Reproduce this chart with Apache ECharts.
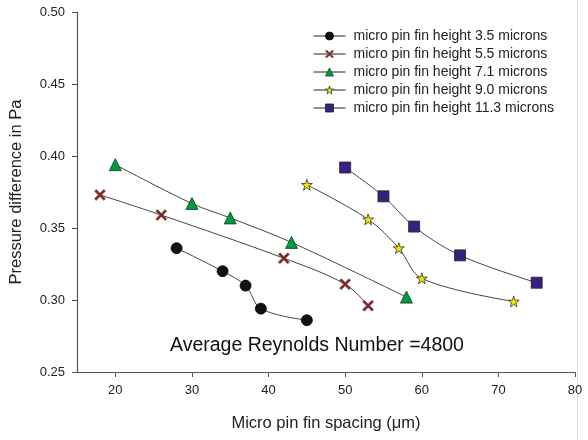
<!DOCTYPE html>
<html>
<head>
<meta charset="utf-8">
<script src="https://cdn.jsdelivr.net/npm/echarts@6/dist/echarts.min.js"></script>
<style>
html,body{margin:0;padding:0;background:#fff;}
#chart{width:588px;height:440px;}
</style>
</head>
<body>
<div id="chart"></div>
<script>
// Pin fin spacing (µm) and pressure difference (Pa) for each fin height
const seriesNames = [
  'micro pin fin height 3.5 microns',
  'micro pin fin height 5.5 microns',
  'micro pin fin height 7.1 microns',
  'micro pin fin height 9.0 microns',
  'micro pin fin height 11.3 microns'
];
const spacing35 = [28, 34, 37, 39, 45];
const dp35 = [0.336, 0.320, 0.310, 0.294, 0.286];
const spacing55 = [18, 26, 42, 50, 53];
const dp55 = [0.373, 0.359, 0.329, 0.311, 0.296];
const spacing71 = [20, 30, 35, 43, 58];
const dp71 = [0.394, 0.367, 0.357, 0.340, 0.302];
const spacing90 = [45, 53, 57, 60, 72];
const dp90 = [0.380, 0.356, 0.336, 0.315, 0.299];
const spacing113 = [50, 55, 59, 65, 75];
const dp113 = [0.392, 0.372, 0.351, 0.331, 0.312];
const xTicks = [20, 30, 40, 50, 60, 70, 80];
const annotation = 'Average Reynolds Number =4800';

const FONT = 'Liberation Sans, Arial, sans-serif';
const starPath = 'path://M50,0 L61.8,35.1 L98.5,35.1 L68.8,56.8 L79.4,91.9 L50,70 L20.6,91.9 L31.2,56.8 L1.5,35.1 L38.2,35.1 Z';
const crossPath = 'path://M0,15 L15,0 L50,35 L85,0 L100,15 L65,50 L100,85 L85,100 L50,65 L15,100 L0,85 L35,50 Z';

const styles = [
  {symbol: 'circle', size: 11, color: '#111111', border: '#000000'},
  {symbol: crossPath, size: 11, color: '#8b1c1c', border: '#7a6a6a'},
  {symbol: 'triangle', size: 12, color: '#009944', border: '#1a3a1a'},
  {symbol: starPath, size: 11, color: '#f2e600', border: '#333333'},
  {symbol: 'rect', size: 11, color: '#3b1f80', border: '#222222'}
];
const xs = [spacing35, spacing55, spacing71, spacing90, spacing113];
const ys = [dp35, dp55, dp71, dp90, dp113];

const series = seriesNames.map((name, i) => ({
  name: name,
  type: 'line',
  smooth: 0.35,
  data: xs[i].map((x, k) => [x, ys[i][k]]),
  symbol: styles[i].symbol,
  symbolSize: styles[i].size,
  lineStyle: {color: '#444444', width: 1},
  itemStyle: {color: styles[i].color, borderColor: styles[i].border, borderWidth: 0.8},
  emphasis: {disabled: true},
  z: 3 + i
}));

const legendData = seriesNames.map((name, i) => ({
  name: name,
  itemStyle: {color: styles[i].color, borderColor: styles[i].border, borderWidth: 0.8},
  lineStyle: {color: '#222222', width: 1}
}));

const chart = echarts.init(document.getElementById('chart'), null, {renderer: 'canvas'});
chart.setOption({
  animation: false,
  backgroundColor: '#ffffff',
  textStyle: {fontFamily: FONT},
  grid: {left: 75, right: 13, top: 12, bottom: 68, containLabel: false},
  legend: {
    orient: 'vertical',
    left: 308,
    top: 24,
    itemGap: 4,
    itemWidth: 32,
    itemHeight: 10,
    data: legendData,
    textStyle: {fontSize: 14, color: '#222222', fontFamily: FONT, padding: [0, 0, 0, 3]}
  },
  xAxis: {
    type: 'value',
    min: 15,
    max: 80,
    interval: 5,
    name: 'Micro pin fin spacing (\u03bcm)',
    nameLocation: 'middle',
    nameGap: 43,
    nameTextStyle: {fontSize: 16.5, color: '#222222'},
    axisLine: {lineStyle: {color: '#555555', width: 1.2}},
    axisTick: {show: true, inside: false, length: 5, lineStyle: {color: '#555555'},
      customValues: xTicks},
    axisLabel: {fontSize: 13, color: '#222222', margin: 12,
      customValues: xTicks},
    splitLine: {show: false}
  },
  yAxis: {
    type: 'value',
    min: 0.25,
    max: 0.50,
    interval: 0.05,
    name: 'Pressure difference in Pa',
    nameLocation: 'middle',
    nameGap: 52,
    nameTextStyle: {fontSize: 16.5, color: '#222222'},
    axisLine: {show: true, lineStyle: {color: '#555555', width: 1.2}},
    axisTick: {show: true, length: 5, lineStyle: {color: '#555555'}},
    axisLabel: {fontSize: 13, color: '#222222', margin: 12,
      formatter: v => v.toFixed(2)},
    splitLine: {show: false}
  },
  graphic: [
    {
      type: 'text',
      left: 170,
      top: 336,
      style: {text: annotation, fontSize: 19.5, fill: '#111111', fontFamily: FONT}
    },
    {
      type: 'line',
      shape: {x1: 577.5, y1: 0, x2: 577.5, y2: 440},
      style: {stroke: '#dddddd', lineWidth: 1}
    }
  ],
  series: series
});
</script>
</body>
</html>
